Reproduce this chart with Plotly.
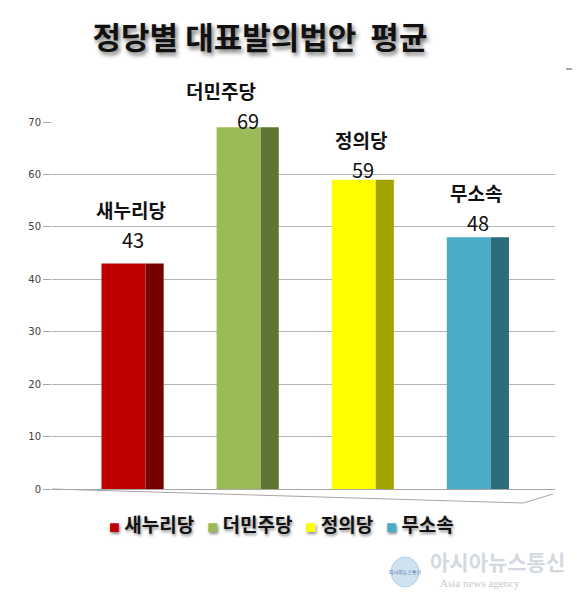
import plotly.graph_objects as go

# --- data ---
parties = ["새누리당", "더민주당", "정의당", "무소속"]
avg_bills = [43, 69, 59, 48]
front_colors = ["#C00000", "#9BBB59", "#FFFF00", "#4BACC6"]
side_colors = ["#760000", "#5E7634", "#A3A300", "#2D6C7D"]
y_ticks = [0, 10, 20, 30, 40, 50, 60, 70]

# label nudges (px) so that text sits where the original put it
value_lift = [24, 7, 10, 15]
name_lift = 30
name_xshift = [-2, -27, -2, -2]

KFONT = "Noto Sans CJK KR, Malgun Gothic, sans-serif"

# the page puts the figure 8px in from the window corner
OFF = 8
W, H = 580 - OFF, 597 - OFF

# plot box in window pixels (for paper-coordinate decorations)
L, R, T, B = 52, 555, 122, 489


def px(x):
    return (x - L) / (R - L)


def py(y):
    return (B - y) / (B - T)


fig = go.Figure()

for i, (name, val) in enumerate(zip(parties, avg_bills)):
    # front face
    fig.add_trace(
        go.Bar(
            x=[name],
            y=[val],
            name=name,
            marker=dict(color=front_colors[i], line=dict(width=0)),
            offset=-0.27,
            width=0.383,
            hoverinfo="x+y",
        )
    )
    # side face (fake 3D depth)
    fig.add_trace(
        go.Bar(
            x=[name],
            y=[val],
            name=name,
            marker=dict(color=side_colors[i], line=dict(width=0)),
            offset=0.113,
            width=0.157,
            hoverinfo="skip",
        )
    )

annotations = []
for i, (name, val) in enumerate(zip(parties, avg_bills)):
    annotations.append(
        dict(
            x=name, y=val, xref="x", yref="y",
            text=str(val), showarrow=False,
            yanchor="middle", yshift=value_lift[i],
            font=dict(family=KFONT, size=20, color="#111111"),
        )
    )
    annotations.append(
        dict(
            x=name, y=val, xref="x", yref="y",
            text=name, showarrow=False,
            yanchor="middle", yshift=value_lift[i] + name_lift,
            xshift=name_xshift[i],
            font=dict(family=KFONT, size=19, color="#111111", weight="bold"),
        )
    )

# legend, built from the same names / colours
gap = "&nbsp;" * 3
legend_text = gap.join(
    f"<span style='color:{c};font-size:11px'>■</span>&nbsp;{n}"
    for n, c in zip(parties, front_colors)
)
annotations.append(
    dict(
        x=px(281), y=py(523), xref="paper", yref="paper",
        xanchor="center", yanchor="middle",
        text=legend_text, showarrow=False,
        font=dict(
            family=KFONT, size=19, color="#111111", weight="bold",
            shadow="1px 2px 3px rgba(0,0,0,0.45)",
        ),
    )
)

# watermark
annotations.append(
    dict(
        x=px(497), y=py(561), xref="paper", yref="paper",
        xanchor="center", yanchor="middle",
        text="아시아뉴스통신", showarrow=False,
        font=dict(family=KFONT, size=21, color="#d3d9df", weight="bold"),
    )
)
annotations.append(
    dict(
        x=px(480), y=py(583), xref="paper", yref="paper",
        xanchor="center", yanchor="middle",
        text="Asia news agency", showarrow=False,
        font=dict(family="Liberation Serif, serif", size=11, color="#c3c9cf"),
    )
)
annotations.append(
    dict(
        x=px(405), y=py(572), xref="paper", yref="paper",
        xanchor="center", yanchor="middle",
        text="아시아뉴스통신", showarrow=False,
        font=dict(family=KFONT, size=5, color="#4a6fa5"),
    )
)

shapes = [
    # floor front edge
    dict(
        type="path", xref="paper", yref="paper",
        path=f"M {px(52)},{py(489)} L {px(523)},{py(503)} L {px(553)},{py(494)}",
        line=dict(color="#a6a6a6", width=1),
    ),
    # watermark globe
    dict(
        type="circle", xref="paper", yref="paper",
        x0=px(391), x1=px(419), y0=py(587), y1=py(557),
        fillcolor="#cfe2f0", line=dict(color="#b5cfe3", width=1),
        layer="below",
    ),
    # frame fragments at right edge
    dict(
        type="line", xref="paper", yref="paper",
        x0=px(566), x1=px(580), y0=py(69), y1=py(69),
        line=dict(color="#555555", width=1),
    ),
    dict(
        type="line", xref="paper", yref="paper",
        x0=px(573), x1=px(580), y0=py(523), y1=py(523),
        line=dict(color="#555555", width=1),
    ),
]

fig.update_layout(
    width=W,
    height=H,
    paper_bgcolor="white",
    plot_bgcolor="white",
    barmode="overlay",
    showlegend=False,
    margin=dict(l=L - OFF, r=580 - R, t=T - OFF, b=597 - B, pad=0),
    title=dict(
        text="정당별 대표발의법안  평균",
        x=(260 - OFF) / W, xanchor="center", xref="container",
        y=1 - (38 - OFF) / H, yanchor="middle", yref="container",
        font=dict(
            family=KFONT, size=31, color="#111111", weight="bold",
            shadow="2px 3px 4px rgba(0,0,0,0.55)",
        ),
    ),
    xaxis=dict(
        type="category",
        categoryorder="array",
        categoryarray=parties,
        range=[-0.70, 3.67],
        showticklabels=False,
        showgrid=False,
        zeroline=False,
        showline=False,
        fixedrange=True,
    ),
    yaxis=dict(
        range=[0, 70],
        tickvals=y_ticks,
        showgrid=True,
        gridcolor="#b4b4b4",
        gridwidth=1,
        zeroline=True,
        zerolinecolor="#a6a6a6",
        zerolinewidth=1,
        showline=False,
        ticks="outside",
        ticklen=8,
        tickcolor="#a6a6a6",
        tickfont=dict(family="DejaVu Sans, sans-serif", size=10, color="#404040"),
        fixedrange=True,
    ),
    annotations=annotations,
    shapes=shapes,
)

fig.write_html("out.html")
